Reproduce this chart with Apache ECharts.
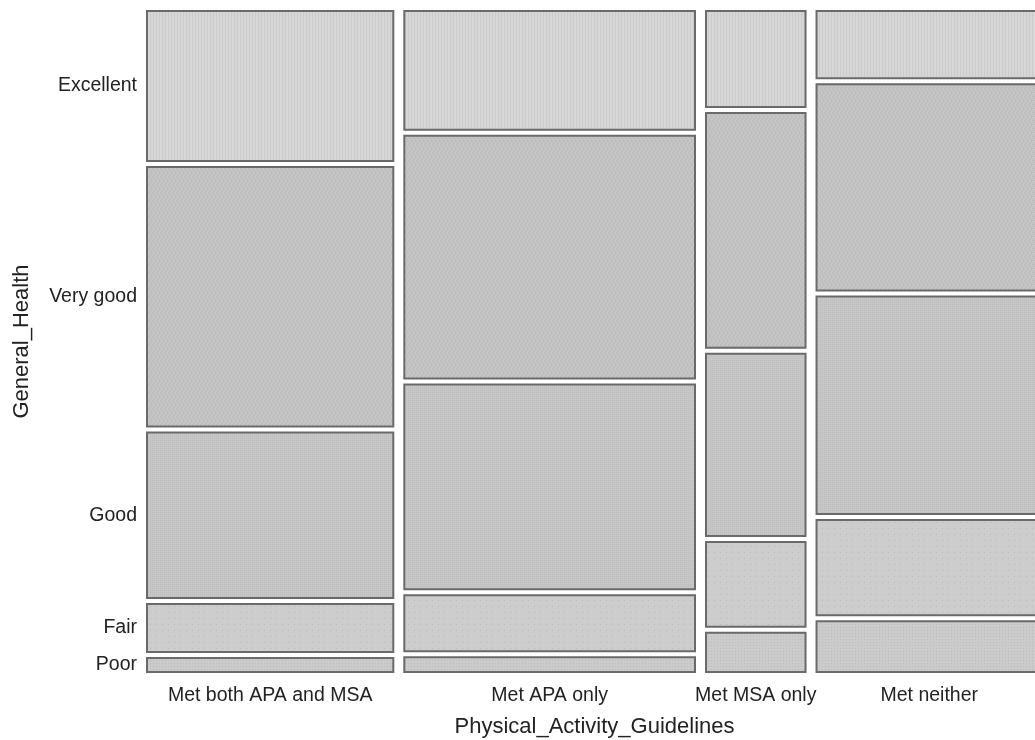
<!DOCTYPE html>
<html><head><meta charset="utf-8">
<script src="https://cdn.jsdelivr.net/npm/echarts@6/dist/echarts.min.js"></script>
<style>html,body{margin:0;padding:0;background:#fff}#c{width:1035px;height:740px}</style>
</head><body><div id="c"></div>
<script>
// ---- data ----
const guidelines = ['Met both APA and MSA', 'Met APA only', 'Met MSA only', 'Met neither'];
const healthLevels = ['Excellent', 'Very good', 'Good', 'Fair', 'Poor'];
// share of each guideline group (column widths, %)
const guidelineShare = [28.4, 33.3, 12.2, 26.1];
// General_Health distribution within each group (column heights, %)
const metBoth    = [23.4, 39.8, 25.7, 8.1, 3.0];
const metAPAOnly = [18.7, 37.3, 31.6, 9.3, 3.1];
const metMSAOnly = [15.3, 36.1, 28.2, 13.6, 6.8];
const metNeither = [11.0, 31.8, 33.5, 15.2, 8.5];
const healthByGuideline = [metBoth, metAPAOnly, metMSAOnly, metNeither];

// ---- textured fills ----
function makePattern(size, base, dot, fn) {
  const cv = document.createElement('canvas');
  cv.width = size; cv.height = size;
  const ctx = cv.getContext('2d');
  ctx.fillStyle = base; ctx.fillRect(0, 0, size, size);
  ctx.fillStyle = dot;
  for (let x = 0; x < size; x++) for (let y = 0; y < size; y++) if (fn(x, y)) ctx.fillRect(x, y, 1, 1);
  return { image: cv, repeat: 'repeat' };
}
const fills = [
  makePattern(6, '#d7d7d7', '#cbcbcb', (x, y) => x % 3 === 0),
  makePattern(8, '#c5c5c5', '#b7b7b7', (x, y) => ((x + (Math.floor(y / 4) % 2 ? y : -y)) % 4 + 4) % 4 === 0),
  makePattern(4, '#c7c7c7', '#bcbcbc', (x, y) => (x + y) % 2 === 0 && y % 2 === 0),
  makePattern(6, '#cdcdcd', '#b9b9b9', (x, y) => x % 6 === 0 && y % 6 === 0),
  makePattern(3, '#cbcbcb', '#bbbbbb', (x, y) => x === 0 && y === 0)
];

// ---- build mosaic cells ----
const cells = [];
let cx = 0;
guidelineShare.forEach((w, i) => {
  const col = healthByGuideline[i];
  const tot = col.reduce((a, b) => a + b, 0);
  let cy = 0;
  col.forEach((v, j) => {
    const h = v / tot * 100;
    cells.push([cx, cx + w, cy, cy + h, i, j]);
    cy += h;
  });
  cx += w;
});

const chart = echarts.init(document.getElementById('c'));
const labelFont = '19.5px "Liberation Sans", Arial, sans-serif';
chart.setOption({
  animation: false,
  grid: { left: 141.5, top: 8, width: 906, height: 667, outerBoundsMode: 'none', containLabel: false },
  xAxis: {
    type: 'value', min: 0, max: 100,
    axisLine: { show: false }, axisTick: { show: false }, axisLabel: { show: false }, splitLine: { show: false },
    name: 'Physical_Activity_Guidelines', nameLocation: 'middle', nameGap: 41,
    nameTextStyle: { fontSize: 22, fontFamily: 'Liberation Sans', color: '#222' }
  },
  yAxis: {
    type: 'value', min: 0, max: 100, inverse: true,
    axisLine: { show: false }, axisTick: { show: false }, axisLabel: { show: false }, splitLine: { show: false },
    name: 'General_Health', nameLocation: 'middle', nameGap: 109, nameRotate: 90,
    nameTextStyle: { fontSize: 22, fontFamily: 'Liberation Sans', color: '#222' }
  },
  series: [{
    type: 'custom',
    clip: false,
    data: cells,
    renderItem: function (params, api) {
      const p0 = api.coord([api.value(0), api.value(2)]);
      const p1 = api.coord([api.value(1), api.value(3)]);
      const i = api.value(4), j = api.value(5);
      const children = [{
        type: 'rect',
        shape: { x: p0[0] + 5.5, y: p0[1] + 3, width: p1[0] - p0[0] - 11, height: p1[1] - p0[1] - 6 },
        style: { fill: fills[j], stroke: '#6a6a6a', lineWidth: 2 }
      }];
      if (i === 0) {
        children.push({
          type: 'text',
          style: { text: healthLevels[j], x: p0[0] - 4.5, y: (p0[1] + p1[1]) / 2, align: 'right', verticalAlign: 'middle', font: labelFont, fill: '#222' }
        });
      }
      if (j === healthLevels.length - 1) {
        children.push({
          type: 'text',
          style: { text: guidelines[i], x: (p0[0] + p1[0]) / 2, y: p1[1] + 21, align: 'center', verticalAlign: 'middle', font: labelFont, fill: '#222' }
        });
      }
      return { type: 'group', children: children };
    }
  }]
});
</script>
</body></html>
